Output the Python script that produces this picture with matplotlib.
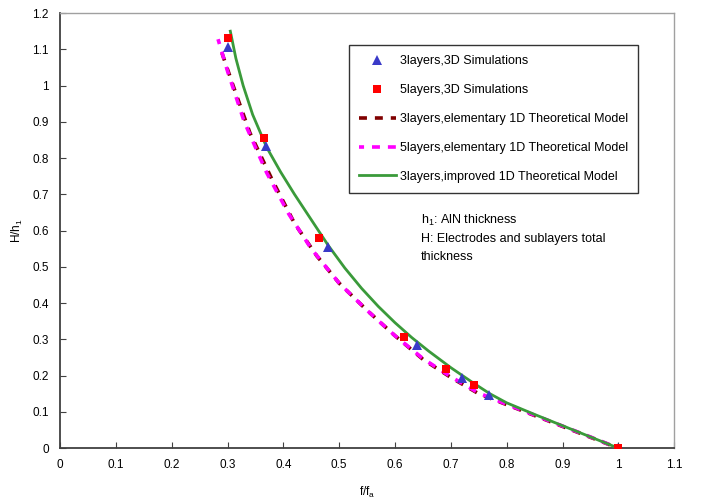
import numpy as np
import matplotlib
matplotlib.use("Agg")
import matplotlib.pyplot as plt

plt.rcParams["font.family"] = ["Liberation Sans", "DejaVu Sans"]
plt.rcParams["mathtext.fontset"] = "custom"
plt.rcParams["mathtext.rm"] = "Liberation Sans"

# 3D simulation points
f_3l_sim = [0.301, 0.369, 0.480, 0.640, 0.720, 0.769, 1.0]
H_3l_sim = [1.107, 0.833, 0.555, 0.284, 0.194, 0.147, 0.0]
f_5l_sim = [0.300, 0.365, 0.463, 0.616, 0.692, 0.742, 1.0]
H_5l_sim = [1.130, 0.856, 0.581, 0.307, 0.218, 0.173, 0.0]

# elementary 1D model curves
f_3l_elem = [0.290, 0.310, 0.340, 0.380, 0.420, 0.460, 0.500, 0.550, 0.600,
             0.650, 0.700, 0.750, 0.800, 0.850, 0.900, 0.950, 1.0]
H_3l_elem = [1.090, 1.000, 0.870, 0.740, 0.620, 0.530, 0.455, 0.380, 0.310,
             0.245, 0.195, 0.150, 0.120, 0.090, 0.060, 0.030, 0.0]
f_5l_elem = [0.283, 0.300, 0.330, 0.370, 0.410, 0.450, 0.500, 0.550, 0.600,
             0.650, 0.700, 0.750, 0.800, 0.850, 0.900, 0.950, 1.0]
H_5l_elem = [1.128, 1.040, 0.900, 0.760, 0.645, 0.550, 0.455, 0.380, 0.310,
             0.247, 0.197, 0.152, 0.121, 0.091, 0.061, 0.031, 0.0]

# improved 1D model
f_3l_impr = [0.305, 0.315, 0.328, 0.345, 0.370, 0.395, 0.420, 0.450, 0.480,
             0.510, 0.540, 0.570, 0.600, 0.630, 0.660, 0.700, 0.740, 0.770,
             0.800, 0.850, 0.900, 0.950, 1.0]
H_3l_impr = [1.150, 1.075, 1.000, 0.920, 0.830, 0.762, 0.700, 0.630, 0.560,
             0.497, 0.441, 0.391, 0.346, 0.305, 0.268, 0.222, 0.180, 0.150,
             0.125, 0.093, 0.062, 0.031, 0.0]

fig = plt.figure(figsize=(7.06, 5.03), dpi=100)
ax = fig.add_axes([0.085, 0.109, 0.87, 0.865])

ax.plot(f_3l_elem, H_3l_elem, color="#800000", lw=2.6, linestyle=(0, (2.2, 2.2)),
        label="3layers,elementary 1D Theoretical Model", zorder=2)
ax.plot(f_5l_elem, H_5l_elem, color="#ff00ff", lw=2.6, linestyle=(0.8, (2.2, 2.2)),
        label="5layers,elementary 1D Theoretical Model", zorder=2)
ax.plot(f_3l_impr, H_3l_impr, color="#3a9a3a", lw=2.0,
        label="3layers,improved 1D Theoretical Model", zorder=3)
ax.plot(f_3l_sim, H_3l_sim, "^", color="#3a3ac8", ms=6.5, mew=0,
        label="3layers,3D Simulations", zorder=4)
ax.plot(f_5l_sim, H_5l_sim, "s", color="#ff0000", ms=5.5, mew=0,
        label="5layers,3D Simulations", zorder=5)

ax.set_xlim(0, 1.1)
ax.set_ylim(0, 1.2)
ax.set_xticks(np.arange(0, 1.11, 0.1))
ax.set_yticks(np.arange(0, 1.21, 0.1))
ax.set_xticklabels(["0", "0.1", "0.2", "0.3", "0.4", "0.5", "0.6", "0.7",
                    "0.8", "0.9", "1", "1.1"])
ax.set_yticklabels(["0", "0.1", "0.2", "0.3", "0.4", "0.5", "0.6", "0.7",
                    "0.8", "0.9", "1", "1.1", "1.2"])
ax.tick_params(direction="in", length=4, labelsize=8.5, pad=8, color="#404040")
ax.set_xlabel("f/f$_\\mathregular{a}$", fontsize=8.5, labelpad=10)
ax.set_ylabel("H/h$_\\mathregular{1}$", fontsize=8.5, labelpad=5)

for s in ["left", "bottom"]:
    ax.spines[s].set_color("#404040")
    ax.spines[s].set_linewidth(1.3)
for s in ["top", "right"]:
    ax.spines[s].set_color("#a0a0a0")
    ax.spines[s].set_linewidth(1.0)

handles, labels = ax.get_legend_handles_labels()
order = [3, 4, 0, 1, 2]
leg = ax.legend([handles[i] for i in order], [labels[i] for i in order],
                loc="upper left", bbox_to_anchor=(0.470, 0.926),
                fontsize=9, frameon=True, fancybox=False, edgecolor="black",
                handlelength=3.0, labelspacing=1.35, borderpad=0.8,
                handletextpad=0.3, borderaxespad=0)
leg.get_frame().set_linewidth(1.0)

ax.text(0.646, 0.629, "h$_\\mathregular{1}$: AlN thickness", fontsize=9, va="center")
ax.text(0.646, 0.577, "H: Electrodes and sublayers total", fontsize=9, va="center")
ax.text(0.646, 0.527, "thickness", fontsize=9, va="center")

fig.savefig("out.png", dpi=100)
